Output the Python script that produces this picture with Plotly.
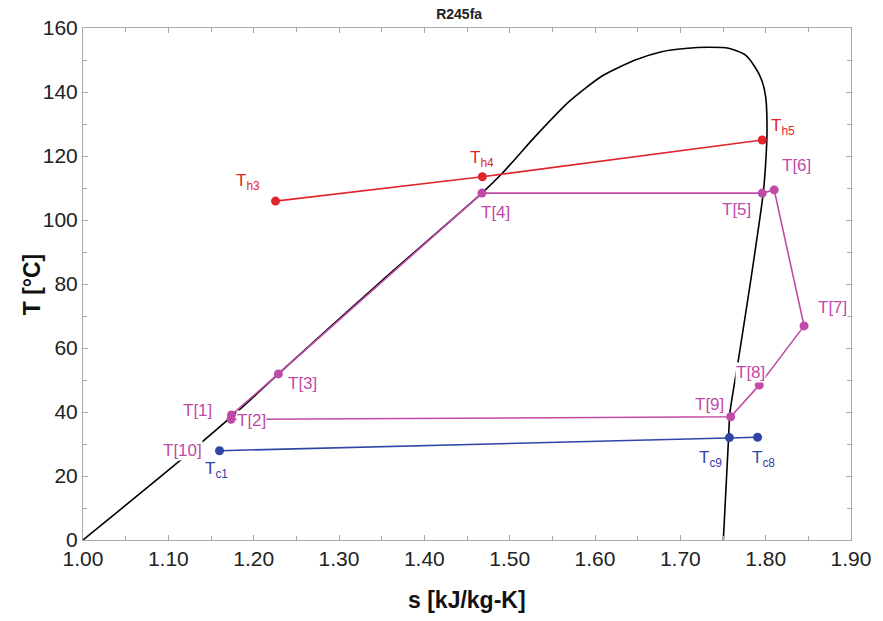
import plotly.graph_objects as go

# Saturation dome of R245fa
sat_s = [1.000, 1.110, 1.190, 1.229, 1.350, 1.4675, 1.4913, 1.5303, 1.5692, 1.6082, 1.6471,
         1.678, 1.7055, 1.733, 1.7565, 1.776, 1.7873, 1.7953, 1.800, 1.8016, 1.800,
         1.7971, 1.783, 1.768, 1.758, 1.7565, 1.7504]
sat_T = [0.0, 24.0, 42.3, 51.9, 81.0, 108.4, 114.6, 126.2, 136.9, 145.0, 150.0,
         152.6, 153.6, 154.0, 153.7, 151.6, 147.9, 143.75, 138.5, 128.1, 117.7,
         108.3, 82.0, 56.25, 39.6, 31.8, 0.0]

# ORC cycle states T[1]..T[9]
cyc_names = ["T[1]", "T[2]", "T[3]", "T[4]", "T[5]", "T[6]", "T[7]", "T[8]", "T[9]"]
cyc_s = [1.1735, 1.1740, 1.229, 1.4675, 1.796, 1.810, 1.845, 1.7925, 1.759]
cyc_T = [37.7, 39.1, 51.9, 108.4, 108.4, 109.4, 66.9, 48.4, 38.5]

# Heat source
hot_names = ["T<sub>h3</sub>", "T<sub>h4</sub>", "T<sub>h5</sub>"]
hot_s = [1.2256, 1.468, 1.796]
hot_T = [105.9, 113.5, 125.0]

# Cooling water
cold_names = ["T<sub>c1</sub>", "T<sub>c9</sub>", "T<sub>c8</sub>"]
cold_s = [1.160, 1.7575, 1.7905]
cold_T = [27.9, 32.0, 32.1]

RED = "#e0262b"
MAG = "#c04aa8"
BLUE = "#2f46a6"

fig = go.Figure()
fig.add_trace(go.Scatter(x=sat_s, y=sat_T, mode="lines",
                         line=dict(color="black", width=1.6, shape="spline", smoothing=0.6),
                         hoverinfo="skip"))
fig.add_trace(go.Scatter(x=hot_s, y=hot_T, mode="lines+markers",
                         line=dict(color=RED, width=1.6),
                         marker=dict(color=RED, size=9)))
fig.add_trace(go.Scatter(x=cold_s, y=cold_T, mode="lines+markers",
                         line=dict(color=BLUE, width=1.6),
                         marker=dict(color=BLUE, size=9)))
loop_s = cyc_s + [cyc_s[0]]
loop_T = cyc_T + [cyc_T[0]]
fig.add_trace(go.Scatter(x=loop_s, y=loop_T, mode="lines",
                         line=dict(color=MAG, width=1.6), hoverinfo="skip"))
fig.add_trace(go.Scatter(x=cyc_s, y=cyc_T, mode="markers",
                         marker=dict(color=MAG, size=9)))

# Label placement (data coordinates)
labels = [
    ("T<sub>h3</sub>", 1.193, 111.9, RED),
    ("T<sub>h4</sub>", 1.4675, 119.0, RED),
    ("T<sub>h5</sub>", 1.8205, 129.0, RED),
    ("T[1]", 1.1344, 40.6, MAG),
    ("T[2]", 1.1975, 37.5, MAG),
    ("T[3]", 1.257, 48.8, MAG),
    ("T[4]", 1.4839, 102.2, MAG),
    ("T[5]", 1.7656, 103.4, MAG),
    ("T[6]", 1.8357, 117.0, MAG),
    ("T[7]", 1.8778, 72.8, MAG),
    ("T[8]", 1.782, 52.5, MAG),
    ("T[9]", 1.734, 42.2, MAG),
    ("T[10]", 1.1169, 28.1, MAG),
    ("T<sub>c1</sub>", 1.1566, 21.9, BLUE),
    ("T<sub>c9</sub>", 1.735, 25.3, BLUE),
    ("T<sub>c8</sub>", 1.798, 25.3, BLUE),
]
for txt, x, y, c in labels:
    fig.add_annotation(x=x, y=y, text=txt, showarrow=False, bgcolor="white",
                       borderpad=0, font=dict(family="Liberation Sans, Arial", size=17, color=c))

# Axis titles
fig.add_annotation(xref="paper", yref="paper", x=0.5, y=-0.117, yanchor="middle",
                   text="<b>s [kJ/kg-K]</b>", showarrow=False,
                   font=dict(family="Liberation Sans, Arial", size=23, color="#111"))
fig.add_annotation(xref="paper", yref="paper", x=-0.066, y=0.5, xanchor="center", textangle=-90,
                   text="<b>T [°C]</b>", showarrow=False,
                   font=dict(family="Liberation Sans, Arial", size=23, color="#111"))

axis_common = dict(showline=True, linecolor="#a8a8a8", linewidth=1, mirror="ticks",
                   ticks="inside", ticklen=5, tickcolor="#a8a8a8", showgrid=False, zeroline=False,
                   tickfont=dict(family="Liberation Sans, Arial", size=21, color="#222"))

fig.update_layout(
    width=883, height=621,
    margin=dict(l=83, r=30, t=28, b=81),
    paper_bgcolor="white", plot_bgcolor="white",
    showlegend=False,
    title=dict(text="<b>R245fa</b>", x=0.52, xanchor="center", y=0.985, yanchor="top",
               font=dict(family="Liberation Sans, Arial", size=14, color="#222")),
    xaxis=dict(range=[1.0, 1.9], dtick=0.1, tick0=1.0, tickformat=".2f",
               minor=dict(ticks="inside", dtick=0.05, ticklen=4, tickcolor="#a8a8a8"),
               **axis_common),
    yaxis=dict(range=[0, 160], dtick=20, tick0=0,
               minor=dict(ticks="inside", dtick=10, ticklen=4, tickcolor="#a8a8a8"),
               **axis_common),
)

fig.write_html("out.html")
